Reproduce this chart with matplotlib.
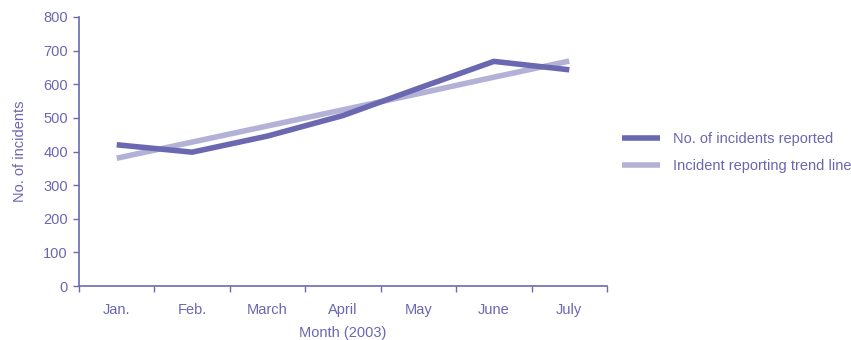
import matplotlib
matplotlib.use("Agg")
import matplotlib.pyplot as plt
import numpy as np

months = ["Jan.", "Feb.", "March", "April", "May", "June", "July"]
incidents = [420, 398, 446, 507, 588, 668, 643]
trend = [380, 428, 476, 524, 572, 621, 669]
y_ticks = [0, 100, 200, 300, 400, 500, 600, 700, 800]

dark = "#6b68b2"
light = "#b4b1d7"
text_c = "#6a67b1"
fs = 10.5

plt.rcParams["font.family"] = ["Liberation Sans", "DejaVu Sans"]

fig = plt.figure(figsize=(8.51, 3.40), dpi=100)
ax = fig.add_axes([79 / 851, 54 / 340, 528 / 851, 269 / 340])

x = np.arange(len(months))
ax.plot(x, trend, color=light, lw=4, solid_capstyle="butt", label="Incident reporting trend line")
ax.plot(x, incidents, color=dark, lw=4, solid_capstyle="butt", label="No. of incidents reported")

ax.set_xlim(-0.5, len(months) - 0.5)
ax.set_ylim(0, 800)
ax.set_yticks(y_ticks)
ax.set_xticks(np.arange(-0.5, len(months)), minor=False)
ax.set_xticklabels([])
ax.set_xticks(x, minor=True)
ax.set_xticklabels(months, minor=True)
ax.tick_params(axis="x", which="minor", length=0, pad=12, labelsize=fs, labelcolor=text_c)
ax.tick_params(axis="x", which="major", length=4, width=1, color=dark, direction="out")
ax.tick_params(axis="y", length=4, width=1, color=dark, direction="out", labelsize=fs, labelcolor=text_c, pad=4)

for side in ("top", "right"):
    ax.spines[side].set_visible(False)
for side in ("left", "bottom"):
    ax.spines[side].set_color(dark)
    ax.spines[side].set_linewidth(1.2)

ax.set_xlabel("Month (2003)", color=text_c, fontsize=fs, labelpad=7)
ax.set_ylabel("No. of incidents", color=text_c, fontsize=fs, labelpad=12)

handles, labels = ax.get_legend_handles_labels()
fig.legend(handles[::-1], labels[::-1], loc="center left", bbox_to_anchor=(616 / 851, 1 - 152.5 / 340),
           frameon=False, fontsize=fs, labelcolor=text_c, handlelength=2.6, handletextpad=0.9,
           labelspacing=0.85, borderpad=0.4, borderaxespad=0)

fig.savefig("out.png", dpi=100)
